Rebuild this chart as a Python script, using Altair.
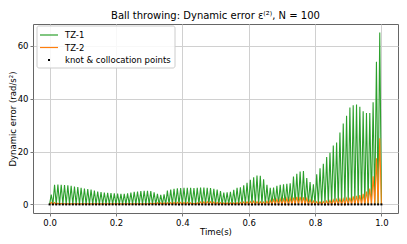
import altair as alt
import pandas as pd

N = 100
series_names = ["TZ-1", "TZ-2"]
series_colors = ["#2ca02c", "#ff7f0e"]

# peak error inside each of the 100 intervals (error is ~0 at the knots)
tz1_peaks = [
    3.7,
    7.4, 7.5, 7.4, 7.3, 7.2, 7.0, 6.8, 6.6, 6.3,
    6.0, 5.8, 5.6,
    5.2, 4.9, 4.7, 4.5, 4.4,
    4.3, 4.2, 4.1, 4.0, 4.0, 4.2,
    4.5, 4.8, 4.9, 5.0, 5.1, 5.1, 5.0,
    4.6, 4.0, 3.6, 3.8,
    5.2, 5.6, 5.9, 6.1, 6.2, 6.3, 6.3, 6.3, 6.2, 6.3, 6.4, 6.4, 6.3, 6.2, 5.9, 5.6,
    5.0, 4.5, 4.6, 4.8, 5.5,
    6.3, 6.5, 7.2,
    8.2, 9.3, 10.3, 10.9, 10.8,
    9.5, 7.4, 6.3, 6.4,
    7.0, 7.4, 7.6, 7.8, 8.0,
    10.5, 11.6, 12.4, 12.6,
    10.0, 8.5, 7.6,
    11.4, 13.7, 15.4, 17.9, 19.5, 22.3,
    23.4, 27.2, 30.6, 33.5, 36.7,
    37.5, 37.8, 36.9, 35.2, 34.6, 34.6, 38.6,
    54.0, 65.0,
]
tz2_peaks = [
    0.8, 0.7, 0.5, 0.4,
    0.3, 0.3, 0.3, 0.3, 0.3, 0.3, 0.3, 0.3, 0.3, 0.3, 0.3, 0.3, 0.3,
    0.3, 0.3, 0.3, 0.3, 0.3, 0.3, 0.3, 0.3, 0.3, 0.3, 0.3, 0.3, 0.3,
    0.5, 0.5, 0.6, 0.6, 0.6, 0.6, 0.7,
    0.8, 0.8, 0.8, 0.8, 0.8,
    0.6, 0.5, 0.6,
    0.9, 1.0, 1.1, 1.0, 0.9, 0.8, 0.7, 0.6, 0.6, 0.6,
    0.6, 0.7, 0.8, 0.9, 1.0,
    1.1, 1.2, 1.1, 1.0, 0.9, 1.2,
    1.5, 1.8, 1.9, 2.0, 2.0, 2.2, 2.3,
    2.6, 2.9, 2.9, 2.7, 2.3,
    1.7, 1.3, 1.1, 1.0, 1.1, 1.3, 1.5,
    1.7, 1.9, 2.0, 2.1, 2.3, 2.6, 3.0,
    3.2, 3.5, 4.0,
    4.9, 6.0, 10.6, 17.5, 25.0,
]
knot_value = 0.0

x_ticks = [0.0, 0.2, 0.4, 0.6, 0.8, 1.0]
y_ticks = [0, 10, 20, 30, 40, 50, 60]

rows = []
for name, peaks in zip(series_names, [tz1_peaks, tz2_peaks]):
    o = 0
    for i, p in enumerate(peaks):
        rows.append({"series": name, "t": i / N, "err": knot_value, "o": o}); o += 1
        rows.append({"series": name, "t": (i + 0.5) / N, "err": p, "o": o}); o += 1
    rows.append({"series": name, "t": 1.0, "err": knot_value, "o": o})
df = pd.DataFrame(rows)
knots = pd.DataFrame({"t": [k / N for k in range(N + 1)], "err": [knot_value] * (N + 1)})

FONT = "DejaVu Sans"
xs = alt.Scale(domain=[-0.05, 1.05], nice=False, zero=False)
ys = alt.Scale(domain=[-3.25, 68.25], nice=False, zero=False)

x_enc = alt.X("t:Q", scale=xs, axis=alt.Axis(
    values=x_ticks, format=".1f", title="Time(s)", grid=True, domain=False,
    tickSize=3, labelPadding=2, titlePadding=1))
y_enc = alt.Y("err:Q", scale=ys, axis=alt.Axis(
    values=y_ticks, format="d", title="Dynamic error (rad/s²)", grid=True, domain=False,
    tickSize=3, labelPadding=2, titleX=-18, titleBaseline="alphabetic", titleAngle=270))

lines = alt.Chart(df).mark_line(strokeWidth=1.1, clip=True).encode(
    x=x_enc, y=y_enc,
    color=alt.Color("series:N", scale=alt.Scale(domain=series_names, range=series_colors), legend=None),
    order="o:Q",
)
dots = alt.Chart(knots).mark_square(size=4, color="black", opacity=1, filled=True).encode(
    x=alt.X("t:Q", scale=xs), y=alt.Y("err:Q", scale=ys))

# manual legend (pixel layout inside the plot)
legend_box = alt.Chart(pd.DataFrame({"a": [0]})).mark_rect(
    fill="white", fillOpacity=0.85, stroke="#cccccc", strokeWidth=1, cornerRadius=2
).encode(x=alt.value(4), x2=alt.value(142), y=alt.value(2), y2=alt.value(44))
leg_l1 = alt.Chart(pd.DataFrame({"a": [0]})).mark_rule(color=series_colors[0], strokeWidth=1.2).encode(
    x=alt.value(7), x2=alt.value(25), y=alt.value(11))
leg_l2 = alt.Chart(pd.DataFrame({"a": [0]})).mark_rule(color=series_colors[1], strokeWidth=1.2).encode(
    x=alt.value(7), x2=alt.value(25), y=alt.value(23.5))
leg_pt = alt.Chart(pd.DataFrame({"a": [0]})).mark_square(size=4, color="black", filled=True, opacity=1).encode(
    x=alt.value(16), y=alt.value(36))
leg_labels = ["TZ-1", "TZ-2", "knot & collocation points"]
leg_t = [
    alt.Chart(pd.DataFrame({"a": [0]})).mark_text(
        text=lab, align="left", baseline="middle", fontSize=8.5, font=FONT, color="black"
    ).encode(x=alt.value(32), y=alt.value(yy))
    for lab, yy in zip(leg_labels, [11, 23.5, 36])
]

chart = alt.layer(lines, dots, legend_box, leg_l1, leg_l2, leg_pt, *leg_t).properties(
    width=365, height=189,
    autosize=alt.AutoSizeParams(type="none"),
    padding={"left": 25, "right": 1, "top": 16, "bottom": 23},
    title=alt.Title("Ball throwing: Dynamic error ε⁽²⁾, N = 100", fontSize=10,
                    fontWeight="normal", font=FONT, offset=3, color="black"),
).configure_axis(
    labelFont=FONT, titleFont=FONT, labelFontSize=8.5, titleFontSize=8.5,
    labelColor="black", titleColor="black", titleFontWeight="normal",
    gridColor="#d0d0d0", gridWidth=1, tickColor="#555555", tickWidth=0.8,
).configure_view(stroke="#666666", strokeWidth=1)

chart.save("out.html", embed_options={"renderer": "svg", "actions": False})
